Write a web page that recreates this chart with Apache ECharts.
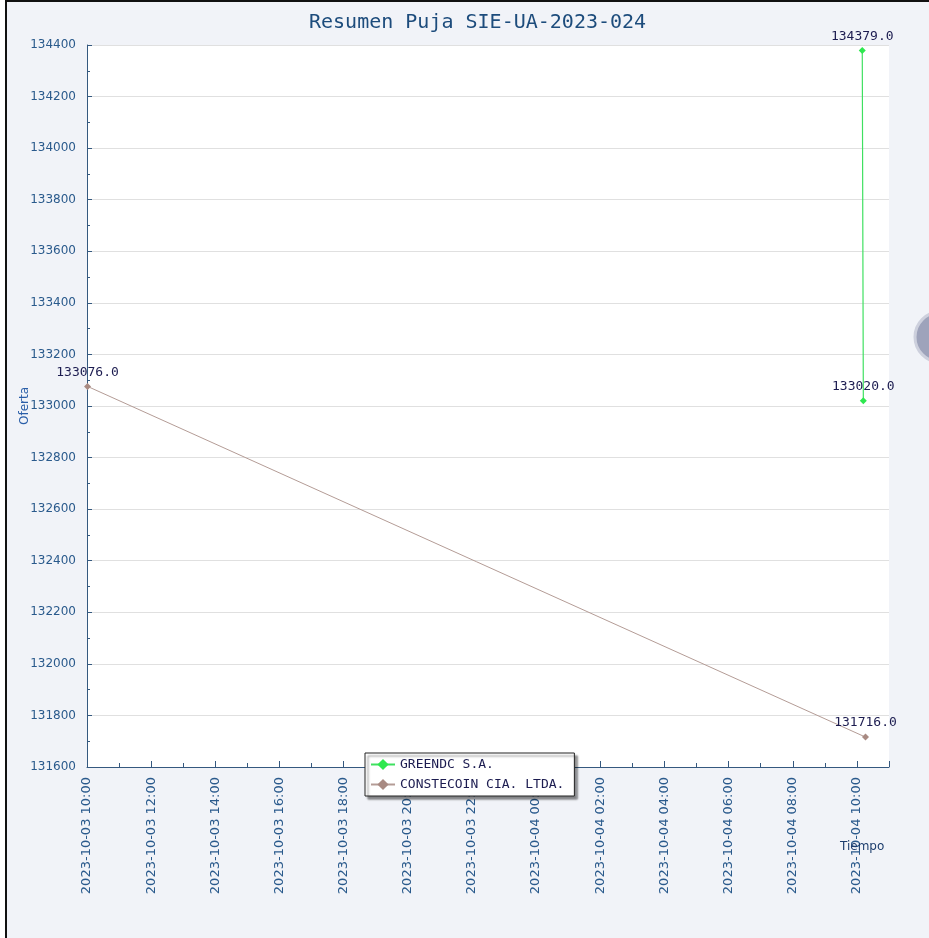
<!DOCTYPE html>
<html>
<head>
<meta charset="utf-8">
<script src="https://cdn.jsdelivr.net/npm/echarts@6/dist/echarts.min.js"></script>
<style>
  html, body { margin: 0; padding: 0; background: #ffffff; overflow: hidden; }
  #frame { position: absolute; left: 5px; top: 0px; width: 940px; height: 950px;
           border-left: 2px solid #111; border-top: 2px solid #111; background: #f1f3f8; }
  #chart { position: absolute; left: 0; top: 0; width: 929px; height: 938px; }
</style>
</head>
<body>
<div id="frame"></div>
<div id="chart"></div>
<script>
// ---- data ----
const titleText = 'Resumen Puja SIE-UA-2023-024';
const seriesNames = ['GREENDC S.A.', 'CONSTECOIN CIA. LTDA.'];
const greendcTimes = ['2023-10-04 10:10', '2023-10-04 10:11', '2023-10-04 10:12'];
const greendcValues = [134379.0, 133702.0, 133020.0];
const greendcMarked = [true, false, true];
const constecoinTimes = ['2023-10-03 10:01', '2023-10-04 10:16'];
const constecoinValues = [133076.0, 131716.0];
const xRange = ['2023-10-03 10:00', '2023-10-04 11:00'];
const yRange = [131600, 134400];
const yStep = 200;
const xStepHours = 2;

function t(s) {
  const [d, h] = s.split(' ');
  const [Y, M, D] = d.split('-').map(Number);
  const [hh, mm] = h.split(':').map(Number);
  return Date.UTC(Y, M - 1, D, hh, mm);
}
function pad(n) { return (n < 10 ? '0' : '') + n; }
function fmt(v) {
  const d = new Date(v);
  return d.getUTCFullYear() + '-' + pad(d.getUTCMonth() + 1) + '-' + pad(d.getUTCDate()) +
    ' ' + pad(d.getUTCHours()) + ':' + pad(d.getUTCMinutes());
}

const mono = 'DejaVu Sans Mono';
const labelStyle = { show: true, position: 'top', distance: 4, fontFamily: mono, fontSize: 13,
  color: '#1c1c50', formatter: p => p.value[1].toFixed(1) };

const greenData = greendcTimes.map((s, i) => greendcMarked[i]
  ? { value: [t(s), greendcValues[i]] }
  : { value: [t(s), greendcValues[i]], symbol: 'none', label: { show: false } });
const brownData = constecoinTimes.map((s, i) => ({ value: [t(s), constecoinValues[i]] }));

const axisColor = '#35597f';
const chart = echarts.init(document.getElementById('chart'), null, { renderer: 'canvas' });
chart.setOption({
  backgroundColor: 'transparent',
  animation: false,
  title: {
    text: titleText, left: 304, top: 8,
    textStyle: { fontFamily: mono, fontSize: 20, fontWeight: 'normal', color: '#1d4c7c' }
  },
  grid: { left: 87, right: 40, top: 45, bottom: 171, show: true, backgroundColor: '#ffffff', borderWidth: 0 },
  legend: {
    data: seriesNames, orient: 'vertical', left: 365, top: 753,
    itemWidth: 24, itemHeight: 14, itemGap: 7,
    padding: [5, 10, 5, 5],
    backgroundColor: '#ffffff', borderColor: '#222', borderWidth: 1,
    shadowColor: 'rgba(0,0,0,0.45)', shadowBlur: 2, shadowOffsetX: 3, shadowOffsetY: 3,
    textStyle: { fontFamily: mono, fontSize: 13, color: '#1c1c50' }
  },
  xAxis: {
    type: 'value', min: t(xRange[0]), max: t(xRange[1]), interval: xStepHours * 3600000,
    axisLine: { show: true, lineStyle: { color: axisColor, width: 1 } },
    axisTick: { show: true, inside: true, length: 6, lineStyle: { color: axisColor } },
    minorTick: { show: true, splitNumber: 2, length: 4, lineStyle: { color: axisColor } },
    splitLine: { show: false },
    axisLabel: { rotate: 90, margin: 10, formatter: v => fmt(v), showMaxLabel: false,
      fontFamily: 'DejaVu Sans', fontSize: 13, color: '#2a5a8c' }
  },
  yAxis: {
    type: 'value', min: yRange[0], max: yRange[1], interval: yStep,
    name: 'Oferta', nameLocation: 'middle', nameGap: 56, nameMoveOverlap: false,
    nameTextStyle: { fontFamily: 'DejaVu Sans', fontSize: 12, color: '#2a5ea8' },
    axisLine: { show: true, lineStyle: { color: axisColor, width: 1 } },
    axisTick: { show: true, inside: true, length: 5, lineStyle: { color: axisColor } },
    minorTick: { show: true, splitNumber: 2, length: 3, lineStyle: { color: axisColor } },
    splitLine: { show: true, lineStyle: { color: '#e0e0e0', width: 1 } },
    axisLabel: { margin: 11, formatter: v => String(v), fontFamily: 'DejaVu Sans', fontSize: 12, color: '#2a5a8c' }
  },
  series: [
    { name: seriesNames[0], type: 'line', data: greenData, color: '#2ee84f',
      symbol: 'diamond', symbolSize: 7, showSymbol: true,
      lineStyle: { width: 1.2, color: '#3fe060' }, label: labelStyle, z: 3 },
    { name: seriesNames[1], type: 'line', data: brownData, color: '#a88a82',
      symbol: 'diamond', symbolSize: 7, showSymbol: true,
      lineStyle: { width: 1, color: '#b49c96' }, label: labelStyle, z: 3 }
  ],
  graphic: [
    { type: 'text', left: 840, top: 841, z: 10,
      style: { text: 'Tiempo', fontFamily: 'DejaVu Sans', fontSize: 12, fill: '#1d3d6d' } },
    { type: 'circle', shape: { cx: 940, cy: 337, r: 25 }, z: 10,
      style: { fill: '#9ea3bb', stroke: '#cdd0dd', lineWidth: 3 } }
  ]
});
</script>
</body>
</html>
